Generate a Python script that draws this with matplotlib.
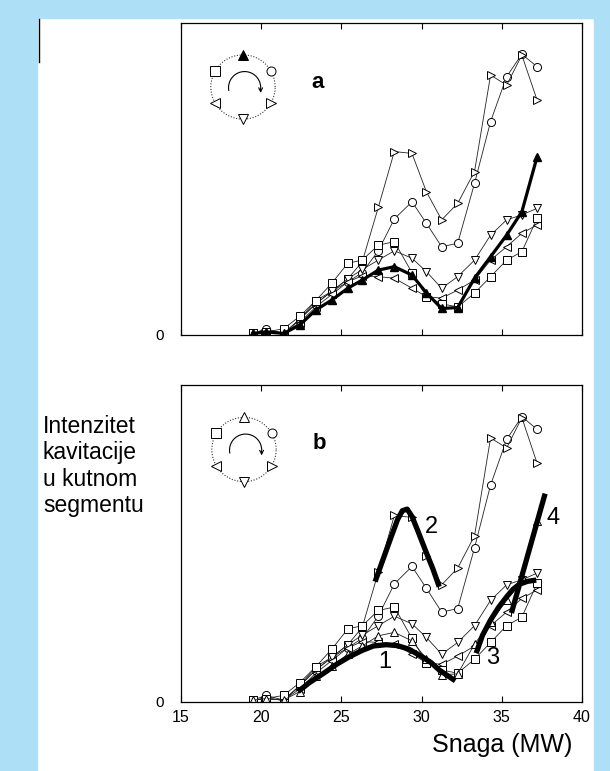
import numpy as np
import matplotlib
matplotlib.use("Agg")
import matplotlib.pyplot as plt
from matplotlib.patches import Rectangle
from matplotlib.lines import Line2D

plt.rcParams['font.family'] = ['Liberation Sans', 'DejaVu Sans']

# ---------------- DATI ----------------
snaga = [19.5, 20.3, 21.4, 22.4, 23.4, 24.4, 25.4, 26.3, 27.3, 28.3,
         29.4, 30.3, 31.25, 32.25, 33.3, 34.3, 35.3, 36.25, 37.2]

seg_gore = [0.5, 1.0, 0.5, 3.2, 8.0, 11.2, 15.0, 17.6, 20.8, 21.9,
            19.2, 13.5, 8.5, 8.8, 18.2, 25.1, 32.0, 39.5, 57.1]      # triangolo su
seg_krug = [0.5, 2.0, 0.5, 5.0, 10.0, 14.0, 17.0, 20.0, 27.0, 37.2,
            42.7, 35.8, 28.3, 29.4, 48.6, 68.4, 82.8, 90.0, 86.0]    # cerchio
seg_desno = [0.5, 1.0, 0.5, 5.0, 11.0, 14.0, 18.0, 23.5, 40.9, 58.8,
             58.2, 45.9, 36.9, 42.2, 52.4, 83.3, 80.1, 89.7, 75.3]   # triangolo destra
seg_dolje = [0.5, 1.0, 0.5, 5.0, 10.0, 14.0, 18.0, 21.0, 24.0, 27.0,
             24.6, 20.3, 15.0, 18.7, 24.0, 32.0, 36.9, 38.5, 40.6]   # triangolo giu
seg_lijevo = [0.5, 1.0, 0.5, 4.0, 9.0, 13.0, 17.0, 19.0, 18.7, 18.2,
              15.0, 12.3, 11.8, 14.4, 17.6, 24.0, 28.3, 32.6, 35.3]  # triangolo sinistra
seg_kvadrat = [0.5, 1.0, 2.0, 6.0, 11.0, 16.6, 23.0, 24.0, 28.8, 29.9,
               20.0, 12.3, 10.0, 9.0, 13.4, 18.7, 24.0, 26.7, 37.4]  # quadrato

# curve tracciate a mano nel pannello b
k1_x = [22.3, 23.0, 23.9, 24.7, 25.5, 26.3, 27.0, 27.8, 28.5, 29.2, 30.0, 30.6, 31.1, 31.6, 32.1]
k1_y = [3.2, 6.0, 9.0, 11.8, 14.2, 16.2, 17.6, 18.0, 17.7, 16.6, 14.3, 12.3, 10.0, 8.3, 6.6]
k2_x = [27.1, 27.6, 28.1, 28.5, 28.8, 29.1, 29.4, 29.8, 30.3, 30.7, 31.1]
k2_y = [37.9, 45.0, 52.0, 57.5, 60.3, 60.8, 58.5, 53.5, 47.0, 42.0, 36.3]
k3_x = [33.4, 33.8, 34.3, 34.8, 35.3, 35.7, 36.1, 36.6, 37.15]
k3_y = [15.3, 21.0, 25.8, 29.8, 33.1, 35.5, 37.1, 38.0, 38.4]
k4_x = [35.6, 37.7]
k4_y = [28.0, 65.7]

oznake = ["1", "2", "3", "4"]
oznake_x = [27.7, 30.6, 34.4, 38.2]
oznake_y = [12.6, 55.2, 13.7, 57.9]

serie = [(seg_krug, 'o'), (seg_desno, '>'), (seg_dolje, 'v'),
         (seg_lijevo, '<'), (seg_kvadrat, 's')]

# ---------------- FIGURA ----------------
fig = plt.figure(figsize=(6.10, 7.71), dpi=100)
W, H = 610.0, 771.0

blu = '#ade0f7'
fig.patches.append(Rectangle((0, 0), 37 / W, 1, transform=fig.transFigure, color=blu, zorder=-5))
fig.patches.append(Rectangle((0, 1 - 18 / H), 1, 18 / H, transform=fig.transFigure, color=blu, zorder=-5))
fig.patches.append(Rectangle((594 / W, 0), 16 / W, 1, transform=fig.transFigure, color=blu, zorder=-5))
fig.lines.append(Line2D([38.5 / W, 38.5 / W], [1 - 19 / H, 1 - 62 / H], transform=fig.transFigure,
                        color='black', lw=1))

ax_a = fig.add_axes([181 / W, 1 - 335 / H, 401 / W, 312 / H])
ax_b = fig.add_axes([181 / W, 1 - 701.7 / H, 401 / W, 316.7 / H])


def crtaj_serije(ax, gore_debelo):
    for vals, m in serie:
        ax.plot(snaga, vals, color='#222222', lw=0.6, marker=m, ms=5.8,
                mfc='white', mec='black', mew=0.7)
    if gore_debelo:
        ax.plot(snaga, seg_gore, color='black', lw=2.3, marker='^', ms=5.8,
                mfc='black', mec='black', zorder=5)
    else:
        ax.plot(snaga, seg_gore, color='#222222', lw=0.6, marker='^', ms=5.8,
                mfc='white', mec='black', mew=0.7)


def stil_osi(ax, donja):
    ax.set_xlim(15, 40)
    ax.set_ylim(0, 100)
    ax.set_xticks([15, 20, 25, 30, 35, 40])
    ax.set_yticks([0])
    ax.set_yticklabels(["0"])
    ax.tick_params(axis='y', length=0, pad=12, labelsize=11)
    ax.tick_params(axis='x', direction='in', length=4, top=True, width=0.8)
    if donja:
        ax.tick_params(axis='x', labelsize=11.5, pad=6)
    else:
        ax.tick_params(axis='x', labelbottom=False)
    for s in ax.spines.values():
        s.set_linewidth(0.9)


def legenda(cx, cy, puni):
    lax = fig.add_axes([(cx - 45) / W, 1 - (cy + 45) / H, 90 / W, 90 / H])
    lax.set_xlim(-1.4, 1.4)
    lax.set_ylim(-1.4, 1.4)
    lax.axis('off')
    t = np.linspace(0, 2 * np.pi, 200)
    lax.plot(np.cos(t), np.sin(t), color='#333333', lw=0.8, ls=(0, (1, 1.5)))
    kutovi = [90, 30, -30, -90, -150, 150]
    markeri = ['^', 'o', '>', 'v', '<', 's']
    for k, m in zip(kutovi, markeri):
        fc = 'black' if (puni and m == '^') else 'white'
        lax.plot(np.cos(np.radians(k)), np.sin(np.radians(k)), marker=m, ms=6.5,
                 mfc=fc, mec='black', mew=0.7, zorder=3)
    a = np.radians(np.linspace(190, -5, 60))
    ax_ = 0.05 + 0.5 * np.cos(a)
    ay_ = -0.02 + 0.5 * np.sin(a)
    lax.plot(ax_, ay_, color='black', lw=0.8)
    lax.annotate('', xy=(ax_[-1], ay_[-1] - 0.12), xytext=(ax_[-1], ay_[-1]),
                 arrowprops=dict(arrowstyle='->', lw=0.8, color='black',
                                 shrinkA=0, shrinkB=0, mutation_scale=7))


# ---------------- PANNELLO a ----------------
crtaj_serije(ax_a, True)
stil_osi(ax_a, False)
ax_a.text(23.5, 81, "a", fontsize=16, fontweight='bold', ha='center', va='center')
legenda(243, 87, True)

# ---------------- PANNELLO b ----------------
crtaj_serije(ax_b, False)
for kx, ky in [(k1_x, k1_y), (k2_x, k2_y), (k3_x, k3_y), (k4_x, k4_y)]:
    ax_b.plot(kx, ky, color='black', lw=3.8, solid_capstyle='butt', zorder=6)
for t, x, y in zip(oznake, oznake_x, oznake_y):
    ax_b.text(x, y, t, fontsize=17, ha='center', va='center', zorder=7)
stil_osi(ax_b, True)
ax_b.text(23.6, 81.6, "b", fontsize=16, fontweight='bold', ha='center', va='center')
legenda(244, 449.5, False)

fig.text(502 / W, 1 - 745 / H, "Snaga (MW)", fontsize=18, ha='center', va='center')
fig.text(43 / W, 1 - 466 / H, "Intenzitet\nkavitacije\nu kutnom\nsegmentu",
         fontsize=16.5, ha='left', va='center', linespacing=1.17)

fig.savefig("out.png", dpi=100)
